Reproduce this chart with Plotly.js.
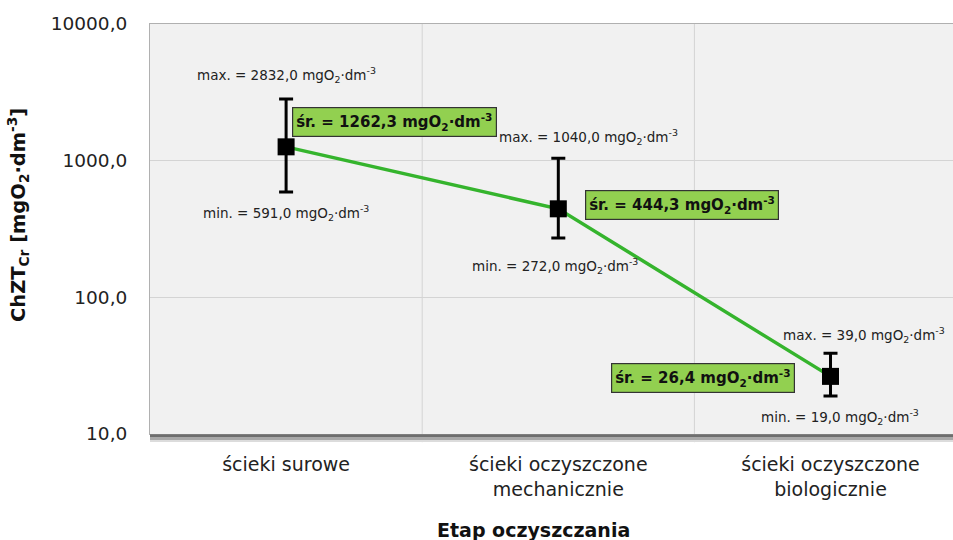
<!DOCTYPE html>
<html>
<head>
<meta charset="utf-8">
<script src="https://cdn.plot.ly/plotly-3.0.1.min.js"></script>
<style>html,body{margin:0;padding:0;background:#fff;}#chart{width:953px;height:540px;}</style>
</head>
<body>
<div id="chart"></div>
<script>
var categories = ["ścieki surowe", "ścieki oczyszczone<br>mechanicznie", "ścieki oczyszczone<br>biologicznie"];
var meanValues = [1262.3, 444.3, 26.4];
var maxValues = [2832.0, 1040.0, 39.0];
var minValues = [591.0, 272.0, 19.0];
var yTickVals = [10, 100, 1000, 10000];
var yTickText = ["10,0", "100,0", "1000,0", "10000,0"];
var xTitle = "Etap oczyszczania";
var yTitle = "ChZT<sub>Cr</sub> [mgO<sub>2</sub>·dm<sup>-3</sup>]";

var FONT = "DejaVu Sans, Liberation Sans, Arial";
var idx = categories.map(function(c, i){ return i; });
var unit = " mgO<sub>2</sub>·dm<sup>-3</sup>";
function fmt(v){ return v.toFixed(1).replace(".", ","); }

var trace = {
  x: idx, y: meanValues, type: "scatter", mode: "lines+markers",
  line: {color: "#35b42d", width: 3.5},
  marker: {symbol: "square", size: 17, color: "#000"},
  error_y: {type: "data", symmetric: false,
    array: meanValues.map(function(m, i){ return maxValues[i] - m; }),
    arrayminus: meanValues.map(function(m, i){ return m - minValues[i]; }),
    color: "#000", thickness: 3, width: 7},
  hoverinfo: "skip", showlegend: false
};

var base = {font: {family: FONT, size: 13.5, color: "#222"}, showarrow: false, xref: "x", yref: "y"};
function ann(o){ return Object.assign({}, base, o); }
var maxShift = [[0, 24], [30, 21], [33, 18]];
var minShift = [[0, -21], [-3, -28], [9, -21]];
var meanShift = [[108, 25], [124, 4], [-128, -2]];
var annotations = [];
idx.forEach(function(i){
  annotations.push(ann({x: i, y: Math.log10(maxValues[i]), xshift: maxShift[i][0], yshift: maxShift[i][1],
    text: "max. = " + fmt(maxValues[i]) + unit}));
  annotations.push(ann({x: i, y: Math.log10(minValues[i]), xshift: minShift[i][0], yshift: minShift[i][1],
    text: "min. = " + fmt(minValues[i]) + unit}));
  annotations.push(ann({x: i, y: Math.log10(meanValues[i]), xshift: meanShift[i][0], yshift: meanShift[i][1],
    text: "<b>śr. = " + fmt(meanValues[i]) + unit + "</b>",
    font: {family: FONT, size: 15, color: "#111"},
    bgcolor: "#92d050", bordercolor: "#333", borderwidth: 1.2, borderpad: 3}));
});
annotations.push({text: "<b>" + xTitle + "</b>", xref: "paper", yref: "paper", x: 0.478, y: -0.233,
  xanchor: "center", yanchor: "middle", showarrow: false, font: {family: FONT, size: 19, color: "#111"}});
annotations.push({text: "<b>" + yTitle + "</b>", xref: "paper", yref: "paper", x: -0.1644, y: 0.534,
  xanchor: "center", yanchor: "middle", textangle: -90, showarrow: false, font: {family: FONT, size: 19.5, color: "#111"}});

var shapes = [
  {type: "line", xref: "x", yref: "paper", x0: 0.5, x1: 0.5, y0: -0.02, y1: 1, line: {color: "#d4d4d4", width: 1}, layer: "below"},
  {type: "line", xref: "x", yref: "paper", x0: 1.5, x1: 1.5, y0: -0.02, y1: 1, line: {color: "#d4d4d4", width: 1}, layer: "below"},
  {type: "line", xref: "paper", yref: "paper", x0: 0, x1: 1, y0: -0.004, y1: -0.004, line: {color: "#6e6e6e", width: 3}},
  {type: "line", xref: "paper", yref: "paper", x0: 0, x1: 1, y0: -0.011, y1: -0.011, line: {color: "#a8a8a8", width: 3}},
  {type: "line", xref: "paper", yref: "paper", x0: 0, x1: 1, y0: -0.017, y1: -0.017, line: {color: "#dcdcdc", width: 2}}
];

var layout = {
  width: 953, height: 540,
  margin: {l: 150, r: 0, t: 24, b: 106},
  paper_bgcolor: "#ffffff", plot_bgcolor: "#f1f1f1",
  font: {family: FONT, color: "#222"},
  xaxis: {range: [-0.5, 2.45], tickvals: idx, ticktext: categories, showgrid: false, zeroline: false,
    showline: true, mirror: true, linecolor: "#b0b0b0", linewidth: 1, ticks: "",
    tickfont: {size: 19, color: "#222"}, ticklabelstandoff: 13},
  yaxis: {type: "log", range: [1, 4], tickvals: yTickVals, ticktext: yTickText, showgrid: true,
    gridcolor: "#d4d4d4", gridwidth: 1, zeroline: false, showline: true, linecolor: "#b0b0b0", ticks: "",
    tickfont: {size: 18.5, color: "#222"}, ticklabelstandoff: 18},
  annotations: annotations, shapes: shapes
};

Plotly.newPlot("chart", [trace], layout, {displayModeBar: false, staticPlot: true});
</script>
</body>
</html>
